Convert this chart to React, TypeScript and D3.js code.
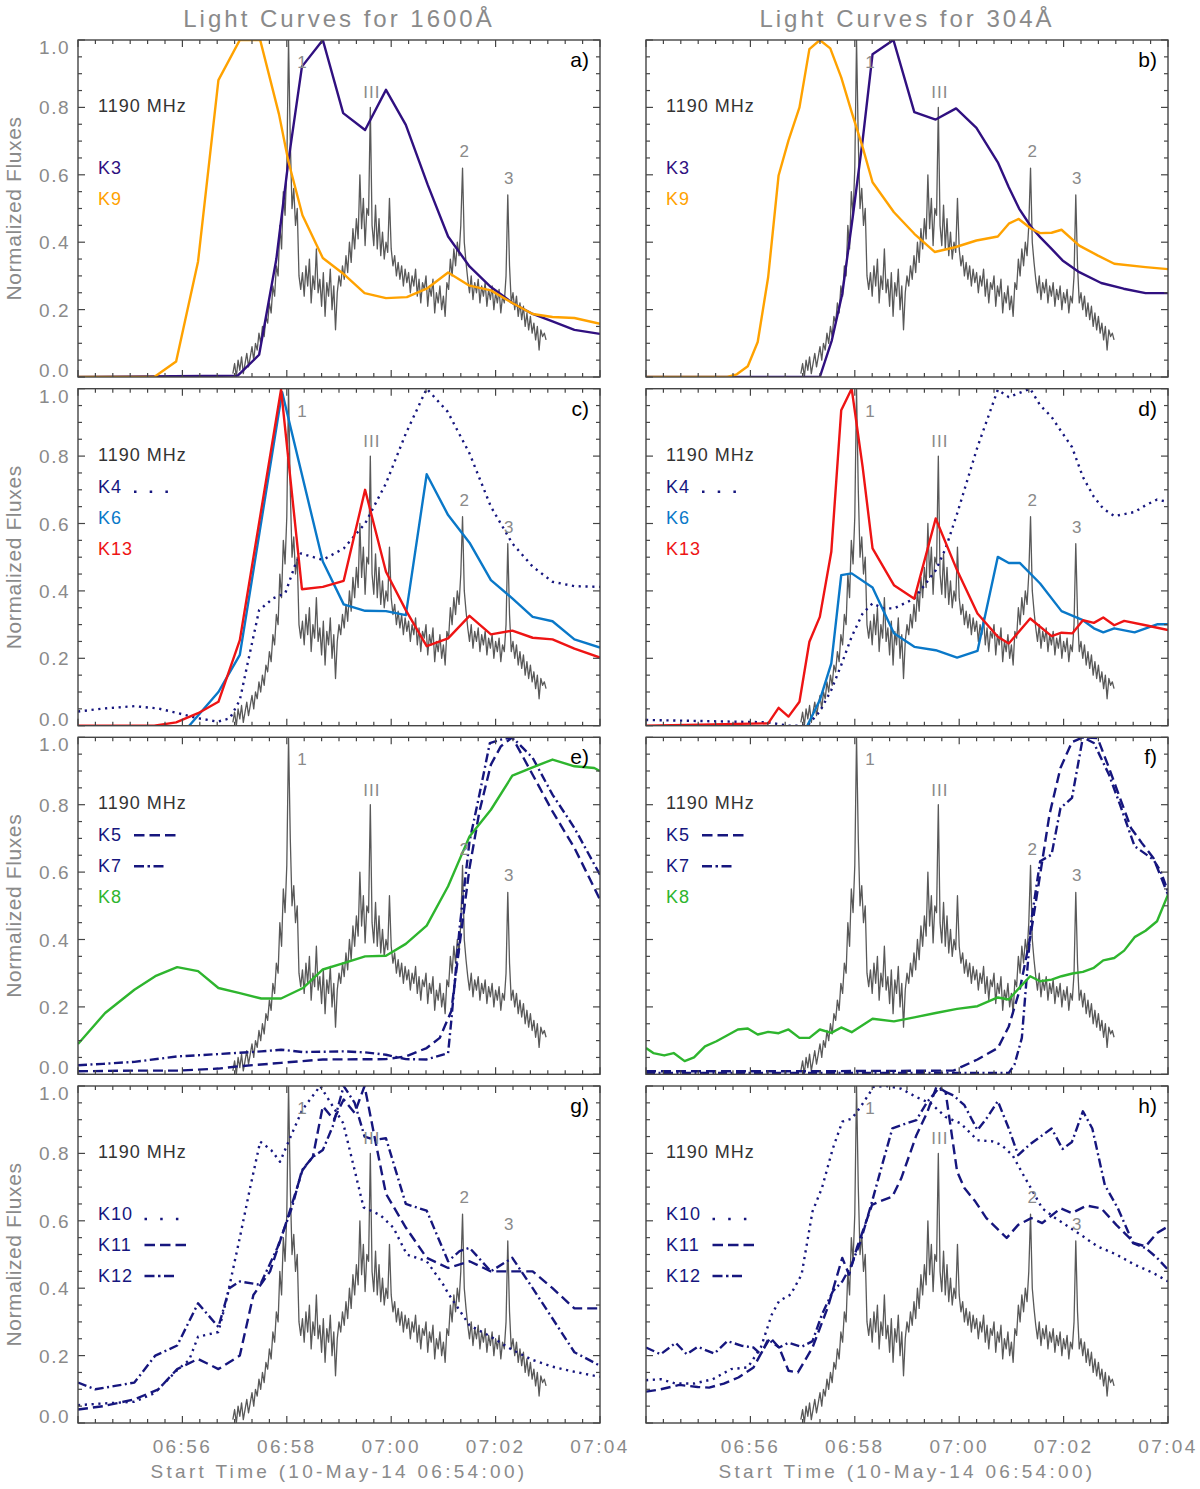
import { useEffect, useRef } from "react"
import * as d3 from "d3"

type Pt = [number, number] // [minutes after 06:54:00, normalized flux]

// 1190 MHz radio flux, 2 s cadence starting 06:56:58
const radioT0 = 178
const radioDt = 2
const radio1190 = [
  0.01, 0.04, 0.0, 0.05, 0.02, 0.06, 0.01, 0.04, 0.07, 0.03,
  0.06, 0.09, 0.05, 0.1, 0.08, 0.13, 0.1, 0.15, 0.12, 0.18,
  0.16, 0.22, 0.19, 0.27, 0.24, 0.33, 0.3, 0.45, 0.38, 0.55,
  0.48, 0.62, 1.0, 0.7, 0.5, 0.56, 0.45, 0.5, 0.3, 0.26,
  0.31, 0.24, 0.33, 0.27, 0.35, 0.22, 0.3, 0.26, 0.38, 0.25,
  0.29, 0.21, 0.31, 0.18, 0.28, 0.24, 0.32, 0.2, 0.27, 0.14,
  0.25, 0.3, 0.27, 0.33, 0.29, 0.36, 0.31, 0.4, 0.34, 0.44,
  0.38, 0.47, 0.41, 0.6, 0.44, 0.53, 0.39, 0.5, 0.48, 0.8,
  0.45, 0.39, 0.51, 0.38, 0.47, 0.36, 0.43, 0.35, 0.4, 0.37,
  0.53, 0.38, 0.33, 0.36, 0.3, 0.34, 0.29, 0.33, 0.27, 0.32,
  0.28, 0.31, 0.25, 0.3, 0.27, 0.32, 0.24, 0.29, 0.22, 0.28,
  0.26, 0.3, 0.21, 0.27, 0.24, 0.29, 0.19, 0.25, 0.22, 0.27,
  0.2, 0.24, 0.18, 0.28, 0.26, 0.35, 0.3, 0.38, 0.33, 0.4,
  0.36, 0.45, 0.62, 0.4, 0.34, 0.29, 0.25, 0.3, 0.23, 0.28,
  0.25, 0.29, 0.22, 0.27, 0.24, 0.28, 0.21, 0.26, 0.23, 0.27,
  0.2, 0.25, 0.22, 0.26, 0.19, 0.24, 0.22, 0.3, 0.54, 0.33,
  0.22, 0.25, 0.2, 0.24, 0.18, 0.22, 0.17, 0.21, 0.15, 0.19,
  0.14, 0.18, 0.13, 0.16, 0.11, 0.15, 0.08, 0.14, 0.12, 0.13, 0.11,
]

const xTickMinutes = [2, 4, 6, 8, 10]
const xTickLabels = ["06:56", "06:58", "07:00", "07:02", "07:04"]
const yTickValues = [0, 0.2, 0.4, 0.6, 0.8, 1.0]
const yTickLabels = ["0.0", "0.2", "0.4", "0.6", "0.8", "1.0"]
const columnTitles = ["Light Curves for 1600Å", "Light Curves for 304Å"]

const burstLabels = ["1", "III", "2", "3"]
const burstTimes = [4.29, 5.63, 7.4, 8.25]
const burstLevels = [0.935, 0.845, 0.67, 0.59]

// --- 1600 A (left column) ---
const k3a: Pt[] = [[0, 0], [3.06, 0.004], [3.47, 0.066], [3.8, 0.35], [4.03, 0.64], [4.29, 0.921], [4.69, 1.0], [5.08, 0.783], [5.5, 0.733], [5.9, 0.852], [6.28, 0.748], [6.7, 0.57], [7.09, 0.417], [7.5, 0.328], [7.91, 0.267], [8.33, 0.219], [8.71, 0.187], [9.09, 0.165], [9.51, 0.14], [10, 0.128]]
const k9a: Pt[] = [[0, 0], [1.46, 0], [1.88, 0.046], [2.3, 0.343], [2.69, 0.881], [3.1, 1.0], [3.49, 1.0], [3.85, 0.78], [4.03, 0.64], [4.3, 0.48], [4.69, 0.353], [5.07, 0.308], [5.49, 0.249], [5.9, 0.234], [6.3, 0.237], [6.7, 0.264], [7.09, 0.31], [7.5, 0.271], [7.91, 0.257], [8.33, 0.219], [8.71, 0.187], [9.09, 0.178], [9.51, 0.175], [10, 0.158]]
const k4c: Pt[] = [[0, 0.042], [0.48, 0.051], [1.08, 0.058], [1.54, 0.051], [1.92, 0.037], [2.3, 0.022], [2.68, 0.012], [2.91, 0.022], [3.1, 0.076], [3.25, 0.185], [3.47, 0.343], [3.74, 0.378], [3.97, 0.393], [4.16, 0.477], [4.27, 0.511], [4.69, 0.492], [5.09, 0.526], [5.5, 0.6], [5.9, 0.719], [6.28, 0.867], [6.68, 1.0], [7.08, 0.932], [7.5, 0.808], [7.91, 0.65], [8.32, 0.541], [8.71, 0.472], [9.09, 0.427], [9.51, 0.414], [10, 0.412]]
const k6c: Pt[] = [[2.13, 0.0], [2.69, 0.1], [3.1, 0.21], [3.91, 0.99], [4.69, 0.487], [5.09, 0.36], [5.5, 0.341], [5.9, 0.34], [6.28, 0.328], [6.68, 0.746], [7.09, 0.625], [7.5, 0.543], [7.91, 0.432], [8.32, 0.378], [8.71, 0.323], [9.09, 0.31], [9.51, 0.256], [10, 0.232]]
const k13c: Pt[] = [[0, 0], [1.46, 0], [1.88, 0.01], [2.3, 0.037], [2.69, 0.071], [3.1, 0.254], [3.89, 0.998], [4.29, 0.405], [4.69, 0.412], [5.09, 0.43], [5.5, 0.7], [5.9, 0.457], [6.28, 0.343], [6.68, 0.236], [7.09, 0.259], [7.5, 0.326], [7.91, 0.271], [8.32, 0.282], [8.71, 0.261], [9.09, 0.256], [9.51, 0.229], [10, 0.202]]
const k5e: Pt[] = [[0, 0.009], [1.08, 0.011], [1.92, 0.011], [2.69, 0.017], [3.1, 0.024], [3.89, 0.034], [4.69, 0.044], [5.9, 0.045], [6.28, 0.053], [6.68, 0.078], [6.93, 0.108], [7.15, 0.187], [7.31, 0.385], [7.5, 0.612], [7.69, 0.78], [7.91, 0.919], [8.1, 0.973], [8.32, 1.0], [8.71, 0.889], [9.09, 0.78], [9.51, 0.672], [9.89, 0.553], [10, 0.518]]
const k7e: Pt[] = [[0, 0.027], [0.48, 0.031], [1.08, 0.037], [1.9, 0.053], [2.69, 0.06], [3.51, 0.068], [3.89, 0.073], [4.31, 0.066], [5.09, 0.068], [5.5, 0.065], [5.9, 0.058], [6.28, 0.045], [6.68, 0.044], [7.09, 0.063], [7.15, 0.157], [7.31, 0.434], [7.5, 0.691], [7.69, 0.83], [7.89, 0.983], [8.1, 0.993], [8.32, 1.0], [8.71, 0.939], [9.09, 0.83], [9.51, 0.731], [10, 0.592]]
const k8e: Pt[] = [[0, 0.09], [0.52, 0.182], [1.08, 0.251], [1.48, 0.291], [1.9, 0.318], [2.3, 0.306], [2.69, 0.256], [3.1, 0.241], [3.51, 0.225], [3.89, 0.225], [4.31, 0.256], [4.69, 0.311], [5.09, 0.33], [5.5, 0.35], [5.9, 0.352], [6.28, 0.387], [6.68, 0.441], [7.09, 0.558], [7.5, 0.706], [7.91, 0.785], [8.32, 0.886], [8.71, 0.911], [9.09, 0.934], [9.51, 0.914], [9.89, 0.909], [10, 0.9]]
const k10g: Pt[] = [[0, 0.053], [0.48, 0.058], [1.08, 0.063], [1.46, 0.088], [1.9, 0.157], [2.13, 0.187], [2.3, 0.256], [2.69, 0.27], [2.85, 0.37], [3.1, 0.55], [3.3, 0.7], [3.49, 0.835], [3.7, 0.81], [3.87, 0.775], [4.06, 0.845], [4.3, 0.93], [4.64, 1.0], [5.08, 0.89], [5.3, 0.75], [5.47, 0.64], [5.79, 0.617], [6.04, 0.58], [6.3, 0.5], [6.68, 0.48], [7.0, 0.41], [7.09, 0.385], [7.5, 0.29], [7.91, 0.256], [8.32, 0.217], [8.71, 0.187], [9.09, 0.167], [9.51, 0.152], [10, 0.137]]
const k11g: Pt[] = [[0, 0.04], [0.48, 0.05], [1.08, 0.07], [1.54, 0.1], [1.9, 0.16], [2.3, 0.19], [2.69, 0.16], [3.1, 0.2], [3.36, 0.38], [3.68, 0.45], [4.0, 0.6], [4.3, 0.75], [4.5, 0.79], [4.69, 0.94], [4.9, 0.9], [5.09, 0.96], [5.3, 0.92], [5.49, 1.0], [5.68, 0.85], [5.9, 0.68], [6.28, 0.58], [6.68, 0.49], [7.09, 0.46], [7.5, 0.48], [7.91, 0.45], [8.32, 0.45], [8.71, 0.45], [9.09, 0.4], [9.51, 0.34], [10, 0.34]]
const k12g: Pt[] = [[0, 0.12], [0.33, 0.1], [0.71, 0.11], [1.08, 0.12], [1.48, 0.2], [1.9, 0.23], [2.3, 0.355], [2.69, 0.285], [2.9, 0.4], [3.1, 0.42], [3.49, 0.41], [3.82, 0.52], [4.1, 0.64], [4.29, 0.75], [4.5, 0.79], [4.69, 0.81], [4.88, 0.88], [5.09, 1.0], [5.3, 0.95], [5.49, 0.85], [5.68, 0.84], [5.9, 0.845], [6.28, 0.65], [6.68, 0.63], [7.09, 0.48], [7.31, 0.51], [7.5, 0.52], [7.91, 0.45], [8.32, 0.49], [8.71, 0.4], [9.09, 0.31], [9.51, 0.21], [10, 0.17]]

// --- 304 A (right column) ---
const k3b: Pt[] = [[0, 0], [3.33, 0], [3.56, 0.109], [3.76, 0.247], [3.96, 0.474], [4.15, 0.702], [4.34, 0.958], [4.74, 1.0], [5.14, 0.786], [5.55, 0.764], [5.94, 0.797], [6.33, 0.739], [6.74, 0.637], [6.95, 0.563], [7.15, 0.499], [7.38, 0.445], [7.55, 0.415], [7.77, 0.38], [7.98, 0.346], [8.3, 0.311], [8.72, 0.279], [9.15, 0.262], [9.57, 0.249], [10, 0.249]]
const k9b: Pt[] = [[0, 0], [1.56, 0], [1.74, 0.008], [1.95, 0.032], [2.14, 0.104], [2.34, 0.296], [2.54, 0.598], [2.73, 0.702], [2.94, 0.8], [3.13, 0.973], [3.33, 1.0], [3.53, 0.975], [3.74, 0.889], [3.94, 0.786], [4.15, 0.682], [4.34, 0.578], [4.75, 0.489], [5.14, 0.425], [5.53, 0.371], [5.92, 0.385], [6.33, 0.405], [6.74, 0.417], [6.95, 0.455], [7.14, 0.469], [7.38, 0.44], [7.55, 0.427], [7.77, 0.428], [7.96, 0.437], [8.3, 0.39], [8.65, 0.361], [8.97, 0.336], [9.57, 0.326], [10, 0.32]]
const k4d: Pt[] = [[0, 0.017], [2.34, 0.01], [2.73, 0], [3.09, 0], [3.33, 0.042], [3.55, 0.106], [3.74, 0.18], [3.94, 0.264], [4.15, 0.333], [4.34, 0.363], [4.54, 0.348], [4.75, 0.348], [5.14, 0.377], [5.55, 0.461], [5.74, 0.526], [5.96, 0.629], [6.35, 0.827], [6.74, 0.997], [6.95, 0.975], [7.36, 1.0], [7.55, 0.951], [7.77, 0.916], [7.96, 0.872], [8.16, 0.827], [8.37, 0.738], [8.58, 0.679], [8.76, 0.644], [8.97, 0.622], [9.36, 0.634], [9.57, 0.654], [9.79, 0.671], [10, 0.664]]
const k6d: Pt[] = [[3.09, 0], [3.33, 0.076], [3.55, 0.185], [3.74, 0.447], [3.94, 0.452], [4.34, 0.41], [4.75, 0.274], [5.14, 0.234], [5.55, 0.224], [5.96, 0.202], [6.35, 0.222], [6.74, 0.501], [6.95, 0.483], [7.16, 0.483], [7.55, 0.422], [7.96, 0.34], [8.37, 0.313], [8.58, 0.289], [8.76, 0.277], [8.97, 0.289], [9.36, 0.277], [9.79, 0.301], [10, 0.301]]
const k13d: Pt[] = [[0, 0], [2.34, 0.007], [2.54, 0.053], [2.73, 0.027], [2.94, 0.071], [3.13, 0.249], [3.33, 0.323], [3.55, 0.516], [3.74, 0.936], [3.94, 1.0], [4.15, 0.768], [4.34, 0.526], [4.75, 0.417], [5.14, 0.377], [5.55, 0.615], [5.96, 0.461], [6.35, 0.333], [6.74, 0.264], [6.95, 0.244], [7.36, 0.318], [7.77, 0.266], [7.96, 0.276], [8.17, 0.274], [8.37, 0.313], [8.58, 0.305], [8.76, 0.321], [8.97, 0.298], [9.16, 0.311], [9.57, 0.298], [10, 0.284]]
const k5f: Pt[] = [[0, 0.009], [3.05, 0.009], [5.89, 0.011], [6.35, 0.044], [6.74, 0.078], [6.95, 0.142], [7.16, 0.251], [7.36, 0.405], [7.59, 0.632], [7.73, 0.771], [7.94, 0.909], [8.16, 0.986], [8.37, 1.0], [8.65, 0.998], [8.87, 0.909], [9.08, 0.82], [9.29, 0.731], [9.5, 0.686], [9.72, 0.642], [10, 0.533]]
const k7f: Pt[] = [[0, 0.004], [6.95, 0.004], [7.06, 0.029], [7.2, 0.108], [7.38, 0.454], [7.55, 0.632], [7.77, 0.652], [7.94, 0.79], [8.16, 0.82], [8.37, 1.0], [8.58, 0.983], [8.87, 0.889], [9.08, 0.8], [9.36, 0.677], [9.72, 0.637], [9.86, 0.602], [10, 0.543]]
const k8f: Pt[] = [[0, 0.078], [0.14, 0.063], [0.35, 0.056], [0.53, 0.063], [0.74, 0.039], [0.92, 0.05], [1.13, 0.083], [1.35, 0.098], [1.56, 0.116], [1.76, 0.133], [1.95, 0.136], [2.14, 0.118], [2.34, 0.126], [2.54, 0.122], [2.73, 0.133], [2.94, 0.108], [3.13, 0.108], [3.33, 0.133], [3.55, 0.123], [3.74, 0.139], [3.94, 0.125], [4.34, 0.165], [4.75, 0.157], [5.14, 0.169], [5.55, 0.182], [5.96, 0.194], [6.35, 0.202], [6.74, 0.228], [6.95, 0.222], [7.16, 0.258], [7.36, 0.291], [7.55, 0.276], [7.77, 0.281], [7.96, 0.291], [8.17, 0.299], [8.37, 0.304], [8.58, 0.316], [8.76, 0.338], [8.97, 0.345], [9.16, 0.367], [9.36, 0.407], [9.57, 0.426], [9.79, 0.454], [10, 0.533]]
const k10h: Pt[] = [[0, 0.127], [0.28, 0.13], [0.57, 0.117], [0.92, 0.117], [1.28, 0.13], [1.63, 0.16], [1.95, 0.165], [2.2, 0.224], [2.41, 0.322], [2.55, 0.362], [2.77, 0.381], [2.98, 0.44], [3.19, 0.628], [3.37, 0.697], [3.58, 0.815], [3.76, 0.894], [3.94, 0.903], [4.11, 0.938], [4.36, 0.997], [4.61, 1.0], [4.89, 0.992], [5.18, 0.967], [5.46, 0.948], [5.74, 0.908], [6.03, 0.889], [6.35, 0.839], [6.63, 0.836], [6.81, 0.825], [7.02, 0.795], [7.23, 0.736], [7.41, 0.687], [7.59, 0.637], [7.84, 0.608], [8.09, 0.583], [8.37, 0.554], [8.65, 0.524], [9.01, 0.5], [9.36, 0.47], [9.72, 0.445], [10, 0.42]]
const k11h: Pt[] = [[0, 0.093], [0.28, 0.1], [0.64, 0.113], [0.99, 0.107], [1.21, 0.105], [1.49, 0.117], [1.77, 0.135], [2.06, 0.165], [2.23, 0.214], [2.38, 0.253], [2.55, 0.224], [2.73, 0.155], [2.91, 0.15], [3.19, 0.224], [3.48, 0.342], [3.76, 0.49], [3.89, 0.44], [4.04, 0.52], [4.33, 0.647], [4.47, 0.657], [4.72, 0.672], [4.89, 0.726], [5.18, 0.854], [5.39, 0.923], [5.57, 1.0], [5.74, 0.982], [5.96, 0.746], [6.1, 0.697], [6.31, 0.657], [6.52, 0.608], [6.91, 0.549], [7.13, 0.588], [7.38, 0.608], [7.59, 0.593], [7.94, 0.637], [8.16, 0.623], [8.44, 0.645], [8.72, 0.637], [9.01, 0.588], [9.36, 0.534], [9.57, 0.524], [9.79, 0.564], [10, 0.583]]
const k12h: Pt[] = [[0, 0.224], [0.28, 0.204], [0.57, 0.238], [0.78, 0.204], [0.99, 0.226], [1.31, 0.206], [1.56, 0.243], [1.84, 0.229], [2.06, 0.224], [2.2, 0.204], [2.34, 0.248], [2.55, 0.224], [2.73, 0.238], [2.98, 0.226], [3.19, 0.243], [3.37, 0.322], [3.58, 0.391], [3.76, 0.42], [3.94, 0.47], [4.11, 0.539], [4.33, 0.657], [4.54, 0.775], [4.72, 0.874], [4.89, 0.884], [5.18, 0.899], [5.39, 0.953], [5.6, 0.992], [5.89, 0.972], [6.1, 0.943], [6.35, 0.869], [6.52, 0.903], [6.74, 0.955], [6.95, 0.874], [7.13, 0.795], [7.34, 0.825], [7.55, 0.849], [7.77, 0.874], [7.98, 0.813], [8.16, 0.834], [8.37, 0.925], [8.55, 0.874], [8.79, 0.706], [9.04, 0.637], [9.33, 0.534], [9.57, 0.519], [9.79, 0.49], [10, 0.455]]

const PURPLE = "#301080"
const ORANGE = "#ffa200"
const NAVY = "#16167e"
const BLUE = "#0a78c8"
const RED = "#ee1414"
const GREEN = "#2eb52e"

const DOT = "2.2 4.6"
const DASH = "10 5"
const DASHDOT = "9 3.5 2 3.5"

interface Curve {
  name: string
  data: Pt[]
  color: string
  dash: string | null
}
interface Panel {
  tag: string
  col: number
  row: number
  legendTop: number
  curves: Curve[]
}

const panels: Panel[] = [
  { tag: "a)", col: 0, row: 0, legendTop: 128, curves: [{ name: "K3", data: k3a, color: PURPLE, dash: null }, { name: "K9", data: k9a, color: ORANGE, dash: null }] },
  { tag: "b)", col: 1, row: 0, legendTop: 128, curves: [{ name: "K3", data: k3b, color: PURPLE, dash: null }, { name: "K9", data: k9b, color: ORANGE, dash: null }] },
  { tag: "c)", col: 0, row: 1, legendTop: 98, curves: [{ name: "K4", data: k4c, color: NAVY, dash: DOT }, { name: "K6", data: k6c, color: BLUE, dash: null }, { name: "K13", data: k13c, color: RED, dash: null }] },
  { tag: "d)", col: 1, row: 1, legendTop: 98, curves: [{ name: "K4", data: k4d, color: NAVY, dash: DOT }, { name: "K6", data: k6d, color: BLUE, dash: null }, { name: "K13", data: k13d, color: RED, dash: null }] },
  { tag: "e)", col: 0, row: 2, legendTop: 98, curves: [{ name: "K5", data: k5e, color: NAVY, dash: DASH }, { name: "K7", data: k7e, color: NAVY, dash: DASHDOT }, { name: "K8", data: k8e, color: GREEN, dash: null }] },
  { tag: "f)", col: 1, row: 2, legendTop: 98, curves: [{ name: "K5", data: k5f, color: NAVY, dash: DASH }, { name: "K7", data: k7f, color: NAVY, dash: DASHDOT }, { name: "K8", data: k8f, color: GREEN, dash: null }] },
  { tag: "g)", col: 0, row: 3, legendTop: 128, curves: [{ name: "K10", data: k10g, color: NAVY, dash: DOT }, { name: "K11", data: k11g, color: NAVY, dash: DASH }, { name: "K12", data: k12g, color: NAVY, dash: DASHDOT }] },
  { tag: "h)", col: 1, row: 3, legendTop: 128, curves: [{ name: "K10", data: k10h, color: NAVY, dash: DOT }, { name: "K11", data: k11h, color: NAVY, dash: DASH }, { name: "K12", data: k12h, color: NAVY, dash: DASHDOT }] },
]

const COL_X = [78, 646]
const ROW_TOP = [40, 388.7, 737.3, 1086]
const PW = 522
const PH = 337
const FONT = "'Liberation Sans', Arial, sans-serif"
const AXIS = "#454545"
const LABEL = "#8a8a8a"

export default function App() {
  const svgRef = useRef<SVGSVGElement>(null)

  useEffect(() => {
    if (!svgRef.current) return
    const svg = d3.select(svgRef.current)
    svg.selectAll("*").remove()
    const defs = svg.append("defs")

    const radioPts: Pt[] = radio1190.map((v, i) => [(radioT0 + i * radioDt) / 60, v])

    // column titles
    columnTitles.forEach((t, c) => {
      svg
        .append("text")
        .attr("x", COL_X[c] + PW / 2)
        .attr("y", 27)
        .attr("text-anchor", "middle")
        .attr("font-family", FONT)
        .attr("font-size", 24)
        .attr("letter-spacing", 3)
        .attr("fill", LABEL)
        .text(t)
    })

    panels.forEach((p, pi) => {
      const x0 = COL_X[p.col]
      const top = ROW_TOP[p.row]
      const x = d3.scaleLinear().domain([0, 10]).range([x0, x0 + PW])
      const y = d3.scaleLinear().domain([0, 1]).range([top + PH, top])
      const g = svg.append("g")

      const clipId = `clip${pi}`
      defs.append("clipPath").attr("id", clipId).append("rect").attr("x", x0).attr("y", top).attr("width", PW).attr("height", PH)

      const line = d3
        .line<Pt>()
        .x((d) => x(d[0]))
        .y((d) => y(d[1]))

      const plot = g.append("g").attr("clip-path", `url(#${clipId})`)

      // radio light curve
      plot
        .append("path")
        .attr("d", line(radioPts))
        .attr("fill", "none")
        .attr("stroke", "#595959")
        .attr("stroke-width", 1.3)
        .attr("stroke-linejoin", "round")

      p.curves.forEach((c) => {
        plot
          .append("path")
          .attr("d", line(c.data))
          .attr("fill", "none")
          .attr("stroke", c.color)
          .attr("stroke-width", 2.4)
          .attr("stroke-dasharray", c.dash)
          .attr("stroke-linejoin", "round")
      })

      // burst annotations
      burstLabels.forEach((b, i) => {
        g.append("text")
          .attr("x", x(burstTimes[i]))
          .attr("y", y(burstLevels[i]) + 6)
          .attr("text-anchor", "middle")
          .attr("font-family", FONT)
          .attr("font-size", 17)
          .attr("letter-spacing", b === "III" ? 1 : 0)
          .attr("fill", LABEL)
          .text(b)
      })

      // frame
      g.append("rect")
        .attr("x", x0)
        .attr("y", top)
        .attr("width", PW)
        .attr("height", PH)
        .attr("fill", "none")
        .attr("stroke", AXIS)
        .attr("stroke-width", 1.4)

      // x ticks
      const xt = d3.range(0, 31).map((i) => i / 3)
      xt.forEach((m, i) => {
        const len = i % 6 === 0 ? 7 : 4
        const xx = x(m)
        g.append("line").attr("x1", xx).attr("x2", xx).attr("y1", top + PH).attr("y2", top + PH - len).attr("stroke", AXIS).attr("stroke-width", 1.2)
        g.append("line").attr("x1", xx).attr("x2", xx).attr("y1", top).attr("y2", top + len).attr("stroke", AXIS).attr("stroke-width", 1.2)
      })
      // y ticks
      const yt = d3.range(0, 21).map((i) => i * 0.05)
      yt.forEach((v, i) => {
        const len = i % 4 === 0 ? 7 : 4
        const yy = y(v)
        g.append("line").attr("x1", x0).attr("x2", x0 + len).attr("y1", yy).attr("y2", yy).attr("stroke", AXIS).attr("stroke-width", 1.2)
        g.append("line").attr("x1", x0 + PW).attr("x2", x0 + PW - len).attr("y1", yy).attr("y2", yy).attr("stroke", AXIS).attr("stroke-width", 1.2)
      })

      if (p.col === 0) {
        yTickValues.forEach((v, i) => {
          const shift = v === 1 ? 7 : v === 0 ? -7 : 0
          g.append("text")
            .attr("x", x0 - 8)
            .attr("y", y(v) + shift + 7)
            .attr("text-anchor", "end")
            .attr("font-family", FONT)
            .attr("font-size", 19)
            .attr("letter-spacing", 1.5)
            .attr("fill", LABEL)
            .text(yTickLabels[i])
        })
        g.append("text")
          .attr("transform", `translate(21, ${top + PH / 2}) rotate(-90)`)
          .attr("text-anchor", "middle")
          .attr("font-family", FONT)
          .attr("font-size", 21)
          .attr("letter-spacing", 0.6)
          .attr("fill", LABEL)
          .text("Normalized Fluxes")
      }

      if (p.row === 3) {
        xTickMinutes.forEach((m, i) => {
          g.append("text")
            .attr("x", x(m))
            .attr("y", top + PH + 30)
            .attr("text-anchor", "middle")
            .attr("font-family", FONT)
            .attr("font-size", 19)
            .attr("letter-spacing", 2.4)
            .attr("fill", LABEL)
            .text(xTickLabels[i])
        })
        g.append("text")
          .attr("x", x0 + PW / 2)
          .attr("y", top + PH + 55)
          .attr("text-anchor", "middle")
          .attr("font-family", FONT)
          .attr("font-size", 19)
          .attr("letter-spacing", 3.3)
          .attr("fill", LABEL)
          .text("Start Time (10-May-14 06:54:00)")
      }

      // panel tag
      g.append("text")
        .attr("x", x0 + PW - 11)
        .attr("y", top + 27)
        .attr("text-anchor", "end")
        .attr("font-family", FONT)
        .attr("font-size", 21)
        .attr("fill", "#000")
        .text(p.tag)

      // legend
      const lx = x0 + 20
      g.append("text")
        .attr("x", lx)
        .attr("y", top + 72)
        .attr("font-family", FONT)
        .attr("font-size", 18)
        .attr("letter-spacing", 1)
        .attr("fill", "#333")
        .text("1190 MHz")

      p.curves.forEach((c, i) => {
        const cy = top + p.legendTop + i * 31
        g.append("text")
          .attr("x", lx)
          .attr("y", cy + 6)
          .attr("font-family", FONT)
          .attr("font-size", 18)
          .attr("letter-spacing", 1)
          .attr("fill", c.color)
          .text(c.name)
        if (c.dash) {
          const sx = lx + (c.name.length === 2 ? 36 : 46.5)
          let len = 41.5
          let dash = "10.5 5"
          let sy = cy
          if (c.dash === DOT) {
            len = 34
            dash = "2.5 13.2"
            sy = cy + 5
          } else if (c.dash === DASHDOT) {
            len = 31
            dash = "10 3.5 2.5 3.5 10"
          }
          g.append("line")
            .attr("x1", sx)
            .attr("x2", sx + len)
            .attr("y1", sy)
            .attr("y2", sy)
            .attr("stroke", c.color)
            .attr("stroke-width", 2.4)
            .attr("stroke-dasharray", dash)
        }
      })
    })
  }, [])

  return (
    <svg
      ref={svgRef}
      width={1200}
      height={1489}
      style={{ position: "absolute", left: 0, top: 0, background: "#fff" }}
    />
  )
}
